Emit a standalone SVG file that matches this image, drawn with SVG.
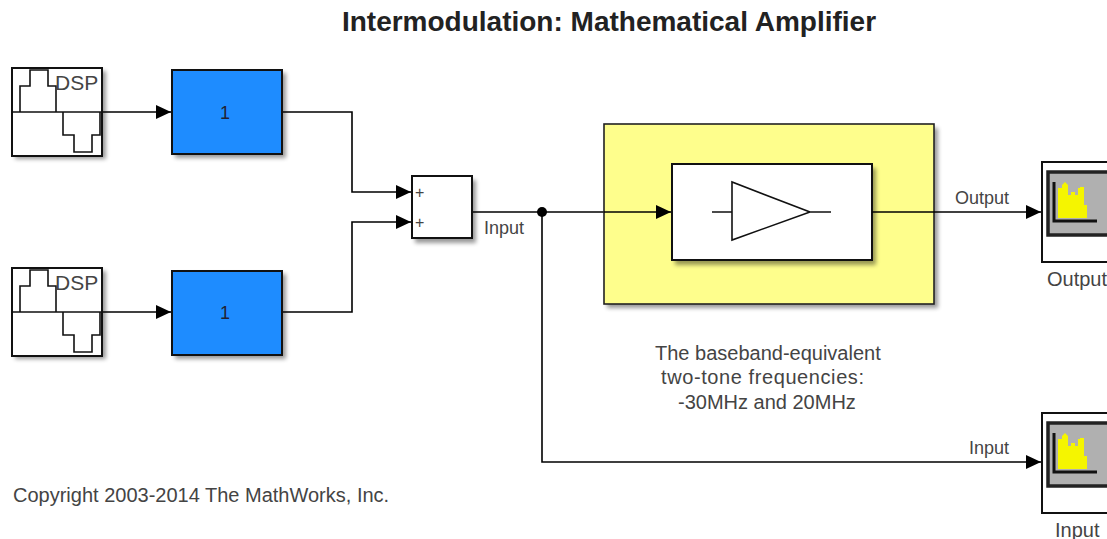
<svg xmlns="http://www.w3.org/2000/svg" width="1107" height="539" viewBox="0 0 1107 539">
<defs>
<filter id="sh" x="-20%" y="-20%" width="150%" height="150%"><feGaussianBlur stdDeviation="2"/></filter>
<marker id="arr" markerUnits="userSpaceOnUse" markerWidth="16" markerHeight="14" refX="15" refY="7" orient="auto"><path d="M0,0L15,7L0,14Z" fill="#000"/></marker>
<g id="sig"><path class="thin" d="M8,43V17H18V1H36V17H44V43M0,43H91M51,43V66H62V83H80V66H88V43"/></g>
<g id="scopeicon"><rect x="6" y="10" width="70" height="63" fill="#b0b0b0" stroke="#222" stroke-width="3.5"/><path d="M12,20V59H55" fill="none" stroke="#111" stroke-width="3"/><path d="M16,56V26H20V23L23,20L26,23V33H29V30H33V33H36V26H38V25H42V43H45V56Z" fill="#f5f500"/></g>
</defs>
<style>
text{font-family:"Liberation Sans",Arial,sans-serif;font-size:20px;fill:#444}
.lbl{font-size:18px}
.blk{stroke:#111;stroke-width:2}
.shadow{fill:#000;opacity:.4;filter:url(#sh)}
.thin{fill:none;stroke:#111;stroke-width:1.6}
.wire{fill:none;stroke:#000;stroke-width:1.6}
.arrowed{marker-end:url(#arr)}
</style>
<rect width="1107" height="539" fill="#fff"/>
<text x="609" y="31" text-anchor="middle" style="font-size:28px;font-weight:bold;fill:#222">Intermodulation: Mathematical Amplifier</text>
<g id="connectors">
<path class="wire arrowed" d="M102,112H171"/>
<path class="wire arrowed" d="M102,312H171"/>
<path class="wire arrowed" d="M282,112H352V192H411"/>
<path class="wire arrowed" d="M282,312H352V222H411"/>
<path class="wire" d="M472,212H604"/>
<path class="wire" d="M542,212V462H1041" marker-end="url(#arr)"/>
<circle cx="542" cy="212" r="5" fill="#000"/>
</g>
<g id="source1"><rect class="shadow" x="15" y="71" width="91" height="88"/><rect class="blk" x="12" y="68" width="90" height="88" fill="#fff"/><use href="#sig" x="12" y="69"/><text x="55" y="90" style="font-size:21px">DSP</text></g>
<g id="source2"><rect class="shadow" x="15" y="271" width="91" height="88"/><rect class="blk" x="12" y="268" width="90" height="88" fill="#fff"/><use href="#sig" x="12" y="269"/><text x="55" y="290" style="font-size:21px">DSP</text></g>
<g id="gain1"><rect class="shadow" x="175" y="73" width="111" height="85"/><rect class="blk" x="172" y="70" width="110" height="84" fill="#1e8cff"/><text x="225" y="119" text-anchor="middle" style="fill:#223;font-size:18px">1</text></g>
<g id="gain2"><rect class="shadow" x="175" y="274" width="111" height="85"/><rect class="blk" x="172" y="271" width="110" height="84" fill="#1e8cff"/><text x="225" y="319" text-anchor="middle" style="fill:#223;font-size:18px">1</text></g>
<g id="sum"><rect class="shadow" x="415" y="180" width="61" height="63"/><rect class="blk" x="412" y="176" width="60" height="62" fill="#fff"/><text x="415" y="198" style="font-size:16px">+</text><text x="415" y="228" style="font-size:16px">+</text></g>
<text class="lbl" x="484" y="234">Input</text>
<g id="subsystem"><rect class="shadow" x="607" y="128" width="331" height="180"/><rect x="604" y="124" width="330" height="180" fill="#fefe8c" stroke="#222" stroke-width="1.6"/></g>
<path class="wire arrowed" d="M604,212H671"/>
<g id="amplifier"><rect class="shadow" x="675" y="168" width="201" height="97"/><rect class="blk" x="672" y="164" width="200" height="96" fill="#fff"/><path class="thin" d="M712,212H732M732,182V240L810,212ZM810,212H831"/></g>
<path class="wire arrowed" d="M872,212H1041"/>
<text class="lbl" x="955" y="204">Output</text>
<g id="scope1"><rect x="1042" y="162" width="70" height="100" fill="#fff" stroke="#111" stroke-width="2"/><use href="#scopeicon" x="1042" y="162"/><text x="1047" y="286">Output</text></g>
<text x="655" y="360">The baseband-equivalent</text>
<text x="661" y="384" textLength="203">two-tone frequencies:</text>
<text x="678" y="409">-30MHz and 20MHz</text>
<text class="lbl" x="969" y="454">Input</text>
<g id="scope2"><rect x="1042" y="413" width="70" height="100" fill="#fff" stroke="#111" stroke-width="2"/><use href="#scopeicon" x="1042" y="413"/><text x="1055" y="537">Input</text></g>
<text x="13" y="502">Copyright 2003-2014 The MathWorks, Inc.</text>
</svg>
